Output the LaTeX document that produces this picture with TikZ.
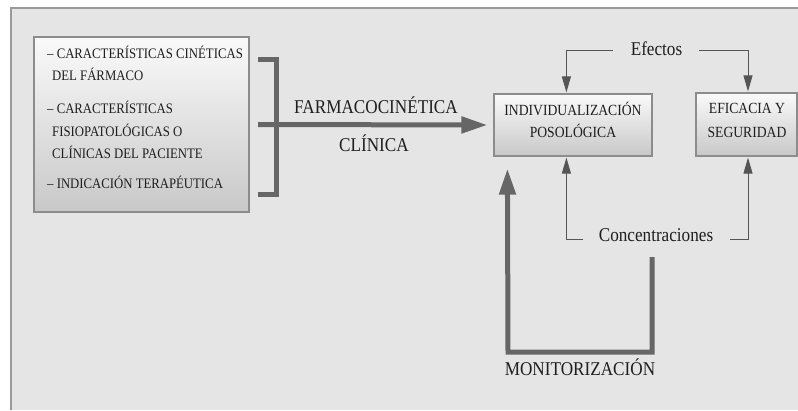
\documentclass[tikz,border=0pt]{standalone}
\usepackage{fontspec}
\setmainfont[FakeStretch=0.88]{Liberation Serif}
\usetikzlibrary{arrows.meta}
\definecolor{panel}{HTML}{E5E5E5}
\definecolor{panelline}{HTML}{9A9A9A}
\definecolor{thickc}{HTML}{666666}
\definecolor{thinc}{HTML}{555555}
\definecolor{boxline}{HTML}{8C8C8C}
\definecolor{boxtop}{HTML}{FAFAFA}
\definecolor{boxbot}{HTML}{C8C8C8}
\definecolor{txt}{HTML}{1E1E1E}
\begin{document}
\begin{tikzpicture}[x=1pt,y=-1pt,
  txtnode/.style={inner sep=0pt, anchor=base, text=txt},
  big/.style={txtnode, font=\fontsize{19.5}{19.5}\selectfont},
  boxtxt/.style={txtnode, font=\fontsize{15.5}{15.5}\selectfont},
  listtxt/.style={inner sep=0pt, anchor=base west, text=txt, font=\fontsize{14.5}{14.5}\selectfont},
  gbox/.style={draw=boxline, line width=1.2pt, top color=boxtop, bottom color=boxbot, inner sep=0pt},
  thickline/.style={draw=thickc, line width=5pt},
  thinline/.style={draw=thinc, line width=1pt},
  thinarrow/.style={thinline, -{Triangle[length=16pt,width=9pt]}},
  thickarrow/.style={thickline, -{Triangle[length=26pt,width=16pt]}},
]
\useasboundingbox (0,0) rectangle (798,410);
% panel
\fill[panel] (11,8) rectangle (798,410);
\draw[panelline, line width=1.5pt] (11,410) -- (11,8) -- (798,8);

% boxes
\node[gbox, minimum width=215pt, minimum height=175pt] (feat) at (141.5,124.5) {};
\node[gbox, minimum width=158pt, minimum height=62pt] (indiv) at (573,125) {};
\node[gbox, minimum width=101pt, minimum height=63pt] (efic) at (746.5,124.5) {};

% list text
\node[listtxt] (l1) at (47,58) {– CARACTERÍSTICAS CINÉTICAS};
\node[listtxt] (l2) at (52,80) {DEL FÁRMACO};
\node[listtxt] (l3) at (47,113) {– CARACTERÍSTICAS};
\node[listtxt] (l4) at (52,136.5) {FISIOPATOLÓGICAS O};
\node[listtxt] (l5) at (52,158.5) {CLÍNICAS DEL PACIENTE};
\node[listtxt] (l6) at (47,188) {– INDICACIÓN TERAPÉUTICA};

% box text
\node[boxtxt] (ind1) at (573,115) {INDIVIDUALIZACIÓN};
\node[boxtxt] (ind2) at (573,137) {POSOLÓGICA};
\node[boxtxt] (ef1) at (747,113) {EFICACIA Y};
\node[boxtxt] (ef2) at (747,137) {SEGURIDAD};

% labels
\node[big] (farm) at (376,113) {FARMACOCINÉTICA};
\node[big] (clin) at (374,151) {CLÍNICA};
\node[big] (moni) at (580,375) {MONITORIZACIÓN};
\node[big] (efectos) at (656.5,55) {Efectos};
\node[big] (conc) at (656,241.5) {Concentraciones};

% bracket and arrow
\draw[thickline] (258,59.5) -- (276,59.5) -- (276,194.5) -- (258,194.5);
\coordinate (brmid) at (258,124.5);
\draw[thickarrow] (brmid) -- ([xshift=-6pt]indiv.west);

% monitorizacion
\coordinate (monstart) at (652,257);
\draw[thickarrow] (monstart) -- (652,352) -- (508,352) -- ([xshift=14pt,yshift=-12pt]indiv.south west);

% efectos arrows
\coordinate (efL) at (613,50);
\coordinate (efR) at (699,50);
\draw[thinarrow] (efL) -| ([xshift=73pt,yshift=1pt]indiv.north west);
\draw[thinarrow] (efR) -| ([xshift=1.5pt,yshift=1pt]efic.north);

% concentraciones arrows
\coordinate (coL) at (583,239);
\coordinate (coR) at (730,239);
\draw[thinarrow] (coL) -| ([xshift=73pt,yshift=-1pt]indiv.south west);
\draw[thinarrow] (coR) -| ([xshift=1.5pt,yshift=-1pt]efic.south);
\end{tikzpicture}
\end{document}
